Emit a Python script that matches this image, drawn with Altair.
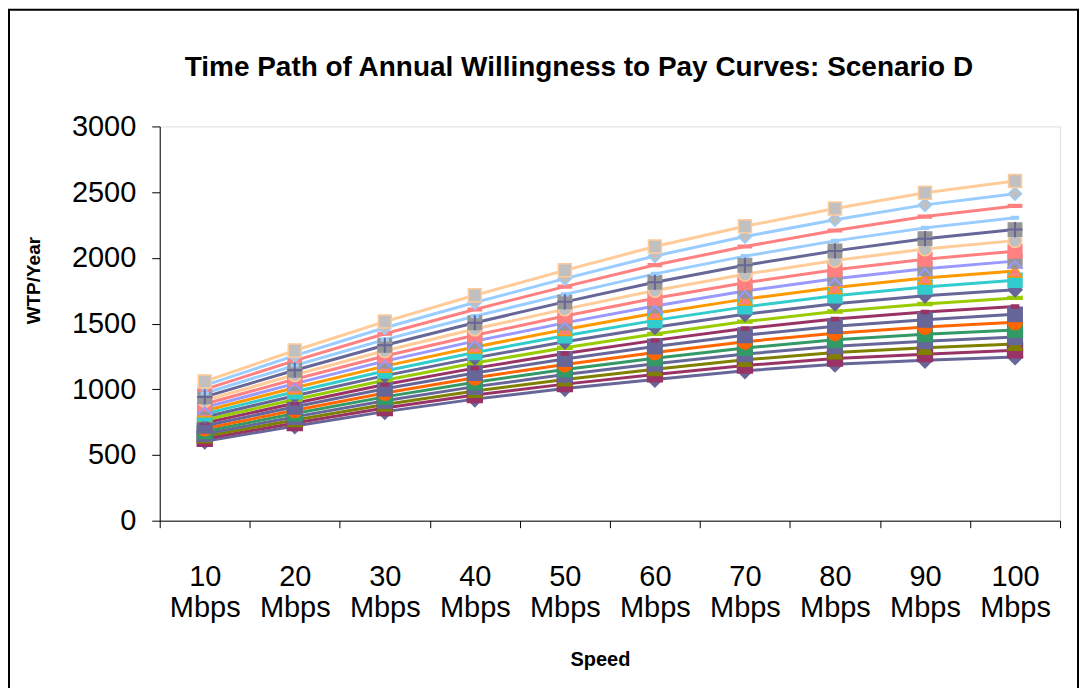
import altair as alt
import pandas as pd

# Categories (speed in Mbps)
SPEEDS = [10, 20, 30, 40, 50, 60, 70, 80, 90, 100]

# Twenty annual WTP curves (series 1 = lowest, series 20 = highest), values at each speed
WTP = [
    [605, 720, 830, 925, 1005, 1075, 1140, 1190, 1220, 1245],
    [623, 743, 857, 956, 1039, 1113, 1181, 1234, 1267, 1296],
    [642, 766, 884, 987, 1075, 1153, 1224, 1280, 1315, 1345],
    [661, 790, 913, 1020, 1112, 1194, 1268, 1327, 1366, 1397],
    [681, 815, 942, 1053, 1150, 1236, 1314, 1376, 1418, 1451],
    [701, 840, 972, 1088, 1189, 1280, 1362, 1427, 1473, 1510],
    [722, 867, 1004, 1124, 1230, 1325, 1411, 1480, 1529, 1570],
    [744, 894, 1036, 1161, 1272, 1372, 1462, 1535, 1588, 1630],
    [766, 922, 1069, 1200, 1316, 1421, 1515, 1592, 1649, 1695],
    [789, 951, 1104, 1239, 1361, 1472, 1570, 1651, 1712, 1757],
    [813, 981, 1139, 1280, 1407, 1524, 1627, 1712, 1778, 1830],
    [837, 1012, 1176, 1322, 1455, 1578, 1686, 1775, 1846, 1900],
    [862, 1043, 1214, 1366, 1505, 1634, 1747, 1841, 1917, 1975],
    [888, 1076, 1253, 1411, 1557, 1692, 1810, 1909, 1990, 2051],
    [915, 1110, 1293, 1458, 1610, 1752, 1875, 1980, 2067, 2131],
    [942, 1145, 1335, 1506, 1665, 1814, 1943, 2053, 2146, 2215],
    [970, 1181, 1378, 1556, 1722, 1878, 2013, 2129, 2228, 2305],
    [999, 1218, 1422, 1607, 1781, 1945, 2086, 2208, 2314, 2395],
    [1029, 1256, 1468, 1660, 1842, 2014, 2162, 2290, 2403, 2488],
    [1060, 1295, 1515, 1715, 1905, 2086, 2240, 2375, 2495, 2585],
]

SIDS = list(range(1, 21))

# Styles
LINE_COLORS = ["#666699", "#993366", "#808000", "#666699", "#339966", "#FF6600", "#666699",
               "#993366", "#99CC00", "#666699", "#33CCCC", "#FF9900", "#9999FF", "#FF8080",
               "#FFCC99", "#666699", "#99CCFF", "#FF8080", "#99CCFF", "#FFCC99"]
DASH = "M-0.5,-0.2L0.5,-0.2L0.5,0.2L-0.5,0.2Z"
LONGDASH = "M-1,-0.2L1,-0.2L1,0.2L-1,0.2Z"
MARKER_SHAPES = ["diamond", "square", "triangle-up", "square", "square", "circle", "square",
                 DASH, LONGDASH, "diamond", "square", "triangle-up", "square", "square",
                 "circle", "square", DASH, LONGDASH, "diamond", "square"]
MARKER_SIZES = [225, 169, 196, 361, 361, 169, 361, 400, 400, 225, 169, 196, 361, 361,
                169, 361, 400, 400, 196, 144]
MARKER_FILLS = ["#666699", "#993366", "#808000", "#666699", "#339966", "#FF6600", "#666699",
                "#993366", "#99CC00", "#666699", "#33CCCC", "#FF8080", "#969696", "#FF8080",
                "#C0C0C0", "#969696", "#99CCFF", "#FF8080", "#C0C0C0", "#C0C0C0"]
MARKER_STROKES = ["#666699", "#993366", "#808000", "#666699", "#339966", "#FF6600", "#666699",
                  "#993366", "#99CC00", "#666699", "#33CCCC", "#FF9900", "#969696", "#FF8080",
                  "#FFCC99", "#969696", "#99CCFF", "#FF8080", "#99CCFF", "#FFCC99"]
XHALF = "M-0.8,0.8L0,0L0.8,0.8"
PLUS = "M-0.8,0L0.8,0M0,-0.8L0,0.8"

FONT = "Liberation Sans"

rows = [{"sid": s + 1, "speed": sp, "wtp": v}
        for s, vals in enumerate(WTP) for sp, v in zip(SPEEDS, vals)]
df = pd.DataFrame(rows)

tick_vals = [s - 5 for s in SPEEDS] + [SPEEDS[-1] + 5]

x_enc = alt.X(
    "speed:Q",
    scale=alt.Scale(domain=[5, 105], nice=False, zero=False),
    axis=alt.Axis(
        values=tick_vals,
        labelExpr="datum.value > 100 ? '' : [toString(datum.value + 5), 'Mbps']",
        labelOffset=45.1,
        labelFontSize=29,
        labelFont=FONT,
        labelColor="black",
        labelBaseline="top",
        labelLineHeight=31,
        labelPadding=35,
        labelOverlap=False,
        labelFlush=False,
        labelBound=False,
        tickSize=7,
        tickColor="black",
        domainColor="black",
        grid=False,
        title="Speed",
        titleFont=FONT,
        titleFontSize=20,
        titleFontWeight="bold",
        titleColor="black",
        titleX=441,
        titleY=139,
        titleAnchor="start",
        titleAlign="center",
        titleBaseline="middle",
    ),
)
y_enc = alt.Y(
    "wtp:Q",
    scale=alt.Scale(domain=[0, 3000], nice=False),
    axis=alt.Axis(
        values=list(range(0, 3001, 500)),
        format="d",
        labelFontSize=29,
        labelFont=FONT,
        labelColor="black",
        labelPadding=16,
        tickSize=8,
        tickColor="black",
        domainColor="black",
        grid=False,
        title="WTP/Year",
        titleFont=FONT,
        titleFontSize=19,
        titleFontWeight="bold",
        titleColor="black",
        titleX=-126,
        titleY=154,
        titleAngle=270,
        titleAlign="center",
        titleBaseline="middle",
    ),
)

base = alt.Chart(df)

lines = base.mark_line(strokeWidth=3).encode(
    x=x_enc, y=y_enc,
    color=alt.Color("sid:O", scale=alt.Scale(domain=SIDS, range=LINE_COLORS), legend=None),
    detail="sid:O",
)

points = base.mark_point(filled=True, opacity=1, strokeWidth=1.5).encode(
    x=x_enc, y=y_enc,
    shape=alt.Shape("sid:O", scale=alt.Scale(domain=SIDS, range=MARKER_SHAPES), legend=None),
    size=alt.Size("sid:O", scale=alt.Scale(domain=SIDS, range=MARKER_SIZES), legend=None),
    fill=alt.Fill("sid:O", scale=alt.Scale(domain=SIDS, range=MARKER_FILLS), legend=None),
    stroke=alt.Stroke("sid:O", scale=alt.Scale(domain=SIDS, range=MARKER_STROKES), legend=None),
    order=alt.Order("sid:Q"),
)

glyph13 = base.transform_filter("datum.sid == 13").mark_point(
    shape=XHALF, size=361, filled=False, stroke="#9999FF", strokeWidth=2, opacity=1
).encode(x=x_enc, y=y_enc)

glyph16 = base.transform_filter("datum.sid == 16").mark_point(
    shape=PLUS, size=361, filled=False, stroke="#666699", strokeWidth=2, opacity=1
).encode(x=x_enc, y=y_enc)

frame = alt.Chart(pd.DataFrame({"f": [0]})).mark_rect(
    filled=False, stroke="black", strokeWidth=2
).encode(x=alt.value(-151), x2=alt.value(920), y=alt.value(-117), y2=alt.value(620))

chart = alt.layer(frame, lines, points, glyph13, glyph16).properties(
    width=902,
    height=395,
    padding={"left": 152, "top": 118, "right": 20, "bottom": 175},
    autosize=alt.AutoSizeParams(type="none"),
    title=alt.TitleParams(
        "Time Path of Annual Willingness to Pay Curves: Scenario D",
        font=FONT, fontSize=28, fontWeight="bold", color="black",
        anchor="middle", frame="group", dx=-31, dy=95, offset=0, baseline="alphabetic",
    ),
).configure_view(stroke="#808080", strokeWidth=1).configure(background="white")

chart.save("out.html", embed_options={"renderer": "svg", "actions": False})
